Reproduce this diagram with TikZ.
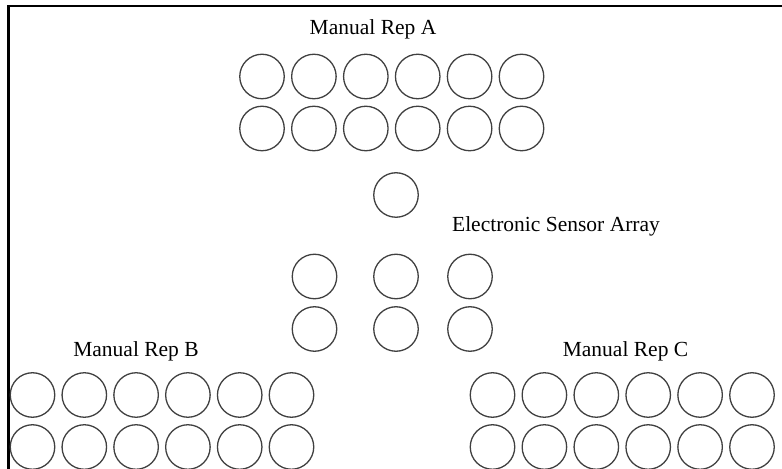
\documentclass[tikz,border=0pt]{standalone}
\usepackage{fontspec}
\setmainfont{Liberation Serif}
\begin{document}
\begin{tikzpicture}[x=1bp,y=-1bp,
  well/.style={circle,draw=black!75,line width=1.3bp,minimum size=44.5bp,inner sep=0pt},
  lbl/.style={font=\fontsize{21.5bp}{24bp}\selectfont,inner sep=0pt,anchor=base}]
\useasboundingbox (0,0) rectangle (782,469);
\begin{scope}
  \clip (0,0) rectangle (782,469);
  \draw[line width=2.3bp] (8.5,490) -- (8.5,6) -- (800,6);
\end{scope}
% labels
\node[lbl] (labA) at (373,35) {Manual Rep A};
\node[lbl] (labB) at (136,357) {Manual Rep B};
\node[lbl] (labC) at (625.5,357) {Manual Rep C};
\node[lbl] (labE) at (556,232) {Electronic Sensor Array};
% Manual Rep A
\foreach \i in {0,...,5} {
  \node[well] (a1-\i) at (262+51.9*\i,76.5) {};
  \node[well] (a2-\i) at (262+51.9*\i,128.5) {};
}
% Manual Rep B
\foreach \i in {0,...,5} {
  \node[well] (b1-\i) at (32.5+51.8*\i,395) {};
  \node[well] (b2-\i) at (32.5+51.8*\i,447) {};
}
% Manual Rep C
\foreach \i in {0,...,5} {
  \node[well] (c1-\i) at (492.5+51.9*\i,395) {};
  \node[well] (c2-\i) at (492.5+51.9*\i,447) {};
}
% Electronic sensor array
\node[well] (e0) at (396,195) {};
\node[well] (e11) at (314.5,276.5) {};
\node[well] (e12) at (396,276.5) {};
\node[well] (e13) at (470,276.5) {};
\node[well] (e21) at (314.5,329) {};
\node[well] (e22) at (396,329) {};
\node[well] (e23) at (470,329) {};
\end{tikzpicture}
\end{document}
